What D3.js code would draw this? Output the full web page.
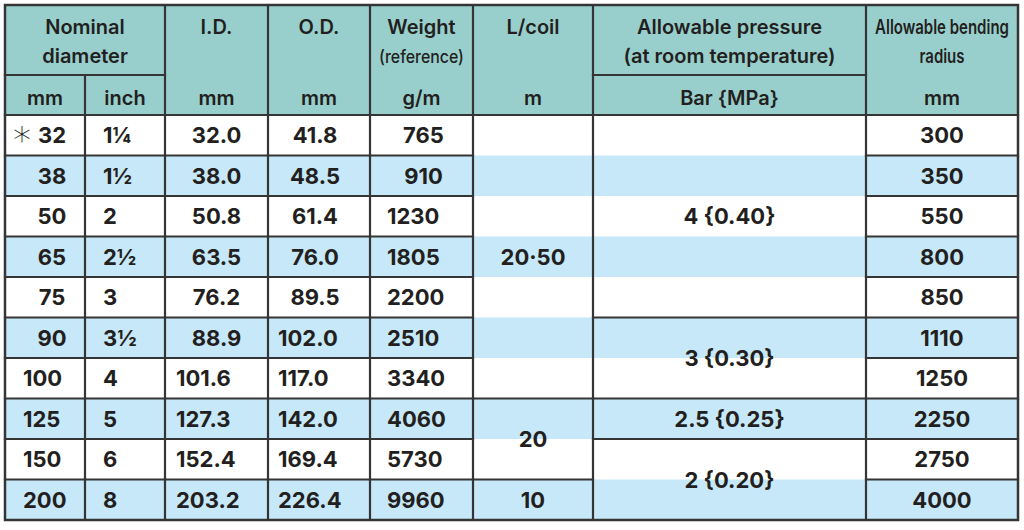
<!DOCTYPE html>
<html>
<head>
<meta charset="utf-8">
<script src="https://cdn.jsdelivr.net/npm/d3@7"></script>
<style>
  body { margin: 0; background: #fff; }
  svg text { font-family: Inter, "Open Sans", sans-serif; fill: #231f20; }
</style>
</head>
<body>
<svg id="table"></svg>
<script>
// Table values
const NOMINAL_MM = ["32", "38", "50", "65", "75", "90", "100", "125", "150", "200"];
const NOMINAL_INCH = ["1¼", "1½", "2", "2½", "3", "3½", "4", "5", "6", "8"];
const INNER_DIAMETER = [32.0, 38.0, 50.8, 63.5, 76.2, 88.9, 101.6, 127.3, 152.4, 203.2];
const OUTER_DIAMETER = [41.8, 48.5, 61.4, 76.0, 89.5, 102.0, 117.0, 142.0, 169.4, 226.4];
const WEIGHT = [765, 910, 1230, 1805, 2200, 2510, 3340, 4060, 5730, 9960];
const BENDING_RADIUS = [300, 350, 550, 800, 850, 1110, 1250, 2250, 2750, 4000];
const FOOTNOTE_SIZES = ["32"];

// merged cells: [label, number of rows spanned]
const LENGTH_PER_COIL = [["20·50", 7], ["20", 2], ["10", 1]];
const ALLOWABLE_PRESSURE = [["4 {0.40}", 5], ["3 {0.30}", 2], ["2.5 {0.25}", 1], ["2 {0.20}", 2]];

const COLUMNS = ["mm", "inch", "id", "od", "weight", "lcoil", "pressure", "bend"];
const HEADER_TOP = [
  { from: "mm", to: "inch", lines: ["Nominal", "diameter"] },
  { from: "id", to: "id", lines: ["I.D."] },
  { from: "od", to: "od", lines: ["O.D."] },
  { from: "weight", to: "weight", lines: ["Weight", "(reference)"] },
  { from: "lcoil", to: "lcoil", lines: ["L/coil"] },
  { from: "pressure", to: "pressure", lines: ["Allowable pressure", "(at room temperature)"] },
  { from: "bend", to: "bend", lines: ["Allowable bending", "radius"] },
];
const HEADER_UNITS = ["mm", "inch", "mm", "mm", "g/m", "m", "Bar {MPa}", "mm"];

// Layout
const config = {
  width: 1024,
  height: 530,
  left: 5,
  top: 5,
  headMid: 75,
  headBottom: 115,
  bottom: 520,
  colWidths: [80, 80, 103, 102, 103, 120, 273, 152],
  headFill: "#98cfcd",
  stripeFill: "#c6e8f8",
  border: "#353535",
  bodySize: 22,
  headSize: 20,
};

// condensed header labels: target width in px, size, weight
const CONDENSED = {
  "(reference)": [85, 18, 500],
  "Allowable bending": [134, 20, 600],
  "radius": [45, 19, 600],
};

const svg = d3.select("#table")
  .attr("width", config.width)
  .attr("height", config.height);

const lefts = d3.cumsum([config.left, ...config.colWidths]);
const right = lefts[lefts.length - 1];
const xLeft = d3.scaleOrdinal(COLUMNS, lefts.slice(0, COLUMNS.length));
const colWidth = d3.scaleOrdinal(COLUMNS, config.colWidths);
const xMid = (c) => xLeft(c) + colWidth(c) / 2;

const rows = d3.range(NOMINAL_MM.length);
const y = d3.scaleBand().domain(rows).range([config.headBottom, config.bottom]);
const yMid = (r) => y(r) + y.bandwidth() / 2;

// Header background
svg.append("rect")
  .attr("x", config.left)
  .attr("y", config.top)
  .attr("width", right - config.left)
  .attr("height", config.headBottom - config.top)
  .attr("fill", config.headFill);

// Row stripes
svg.selectAll(".stripe")
  .data(rows.filter((r) => r % 2 === 1))
  .join("rect")
  .attr("class", "stripe")
  .attr("x", config.left)
  .attr("y", (r) => y(r))
  .attr("width", right - config.left)
  .attr("height", y.bandwidth())
  .attr("fill", config.stripeFill);

// Header text
const headG = svg.append("g");
HEADER_TOP.forEach((h) => {
  const cx = (xLeft(h.from) + xLeft(h.to) + colWidth(h.to)) / 2;
  h.lines.forEach((line, i) => {
    const ty = i === 0 ? 34 : 63;
    const t = headG.append("text")
      .attr("text-anchor", "middle")
      .attr("font-size", config.headSize)
      .attr("font-weight", 600)
      .attr("transform", `translate(${cx},${ty})`)
      .text(line);
    const cond = CONDENSED[line];
    if (cond) {
      t.attr("font-size", cond[1]).attr("font-weight", cond[2]);
      const k = Math.min(1, cond[0] / t.node().getComputedTextLength());
      t.attr("transform", `translate(${cx},${ty}) scale(${k},1)`);
    }
  });
});
headG.selectAll(".unit")
  .data(HEADER_UNITS)
  .join("text")
  .attr("class", "unit")
  .attr("x", (d, i) => xMid(COLUMNS[i]))
  .attr("y", 105)
  .attr("text-anchor", "middle")
  .attr("font-size", config.headSize)
  .attr("font-weight", 600)
  .text((d) => d);

// Body cells
const fmt1 = d3.format(".1f");
const simpleCols = [
  { key: "mm", values: NOMINAL_MM, pad: 18, shift: 7 },
  { key: "inch", values: NOMINAL_INCH, pad: 18, alwaysLeft: true },
  { key: "id", values: INNER_DIAMETER.map(fmt1), pad: 11, shift: 0 },
  { key: "od", values: OUTER_DIAMETER.map(fmt1), pad: 10, shift: -4 },
  { key: "weight", values: WEIGHT.map(String), pad: 17, shift: 2 },
  { key: "bend", values: BENDING_RADIUS.map(String), pad: 0, shift: 0, alwaysMid: true },
];

const cells = [];
simpleCols.forEach((c) => {
  const maxLen = d3.max(c.values, (v) => v.length);
  c.values.forEach((v, r) => {
    const left = c.alwaysLeft || (!c.alwaysMid && v.length === maxLen);
    cells.push({
      text: v,
      row: r,
      x: left ? xLeft(c.key) + c.pad : xMid(c.key) + c.shift,
      anchor: left ? "start" : "middle",
      foot: c.key === "mm" && FOOTNOTE_SIZES.includes(v),
    });
  });
});

const bodyG = svg.append("g");
bodyG.selectAll(".cell")
  .data(cells)
  .join("text")
  .attr("class", "cell")
  .attr("x", (d) => d.x)
  .attr("y", (d) => yMid(d.row) + 8)
  .attr("text-anchor", (d) => d.anchor)
  .attr("font-size", config.bodySize)
  .attr("font-weight", 700)
  .text((d) => d.text);

// Footnote asterisk
bodyG.selectAll(".foot")
  .data(cells.filter((d) => d.foot))
  .join("text")
  .attr("class", "foot")
  .attr("x", xLeft("mm") + 8)
  .attr("y", (d) => yMid(d.row) + 17)
  .attr("font-size", 36)
  .attr("font-weight", 300)
  .style("font-family", "'DejaVu Sans'")
  .text("*");

// Merged cells
function spans(groups) {
  let start = 0;
  return groups.map(([label, n]) => {
    const s = { label, start, end: start + n - 1 };
    start += n;
    return s;
  });
}
const mergedCols = [
  { key: "lcoil", groups: spans(LENGTH_PER_COIL) },
  { key: "pressure", groups: spans(ALLOWABLE_PRESSURE) },
];
mergedCols.forEach((c) => {
  bodyG.selectAll(`.m-${c.key}`)
    .data(c.groups)
    .join("text")
    .attr("class", `m-${c.key}`)
    .attr("x", xMid(c.key))
    .attr("y", (g) => (y(g.start) + y(g.end) + y.bandwidth()) / 2 + 8)
    .attr("text-anchor", "middle")
    .attr("font-size", config.bodySize)
    .attr("font-weight", 700)
    .text((g) => g.label);
});

// Grid lines
const segs = [];
COLUMNS.slice(1).forEach((c) => {
  segs.push([xLeft(c), c === "inch" ? config.headMid : config.top, xLeft(c), config.bottom]);
});
segs.push([xLeft("mm"), config.headMid, xLeft("id"), config.headMid]);
segs.push([xLeft("pressure"), config.headMid, xLeft("bend"), config.headMid]);
segs.push([config.left, config.headBottom, right, config.headBottom]);
rows.slice(1).forEach((r) => {
  COLUMNS.forEach((c, i) => {
    const merged = mergedCols.find((m) => m.key === c);
    if (merged && !merged.groups.some((g) => g.start === r)) return;
    const x2 = i === COLUMNS.length - 1 ? right : xLeft(COLUMNS[i + 1]);
    segs.push([xLeft(c), y(r), x2, y(r)]);
  });
});

svg.append("g")
  .selectAll("line")
  .data(segs)
  .join("line")
  .attr("x1", (d) => d[0])
  .attr("y1", (d) => d[1])
  .attr("x2", (d) => d[2])
  .attr("y2", (d) => d[3])
  .attr("stroke", config.border)
  .attr("stroke-width", 2.2)
  .attr("stroke-linecap", "square");

svg.append("rect")
  .attr("x", config.left)
  .attr("y", config.top)
  .attr("width", right - config.left)
  .attr("height", config.bottom - config.top)
  .attr("fill", "none")
  .attr("stroke", config.border)
  .attr("stroke-width", 2.5);
</script>
</body>
</html>
